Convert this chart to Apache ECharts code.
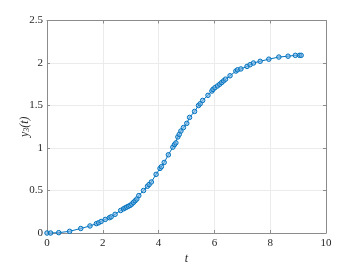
<!DOCTYPE html>
<html><head><meta charset="utf-8">
<script src="https://cdn.jsdelivr.net/npm/echarts@6/dist/echarts.min.js"></script>
<style>html,body{margin:0;padding:0;background:#fff}#c{width:360px;height:270px}</style>
</head><body><div id="c"></div>
<script>
const tValues = [0,0.13,0.42,0.81,1.21,1.54,1.77,1.85,1.94,2.09,2.24,2.30,2.44,2.64,2.74,2.80,2.86,2.92,2.98,3.04,3.10,3.16,3.22,3.29,3.46,3.60,3.66,3.74,3.91,4.05,4.10,4.20,4.35,4.51,4.57,4.62,4.69,4.74,4.80,4.89,5.01,5.11,5.29,5.43,5.49,5.58,5.77,5.91,5.95,6.02,6.11,6.19,6.26,6.33,6.40,6.56,6.77,6.83,6.95,7.17,7.28,7.40,7.64,7.95,8.31,8.64,8.90,9.05,9.11];
const yValues = [0,0,0.004,0.02,0.053,0.083,0.11,0.12,0.136,0.16,0.18,0.19,0.22,0.265,0.284,0.295,0.305,0.315,0.325,0.34,0.36,0.38,0.40,0.44,0.50,0.55,0.57,0.60,0.69,0.76,0.78,0.83,0.92,1.01,1.04,1.06,1.13,1.16,1.20,1.24,1.29,1.36,1.43,1.50,1.52,1.56,1.62,1.67,1.69,1.71,1.73,1.75,1.77,1.79,1.81,1.85,1.905,1.92,1.93,1.96,1.98,2.0,2.02,2.045,2.07,2.08,2.09,2.09,2.09];
const xTicks = [0,2,4,6,8,10];
const yTicks = [0,0.5,1,1.5,2,2.5];
const data = tValues.map((t,i)=>[t,yValues[i]]);
const serif = 'Liberation Serif';
const chart = echarts.init(document.getElementById('c'), null, {renderer:'canvas'});
const boxColor = '#8c8c8c';
const baseAxis = {
  axisLine:{show:true,onZero:false,lineStyle:{color:boxColor,width:1}},
  axisTick:{show:true,inside:true,length:3,lineStyle:{color:boxColor}},
  splitLine:{show:false},
  axisLabel:{show:false}
};
chart.setOption({
  animation:false,
  grid:{left:47,right:34,top:20.5,bottom:30,containLabel:false},
  xAxis:[
    Object.assign({}, baseAxis, {type:'value',min:0,max:10,interval:2,position:'bottom',
      splitLine:{show:true,lineStyle:{color:'#ebebeb',width:1}},
      axisLabel:{show:true,color:'#262626',fontFamily:serif,fontSize:11,margin:5},
      name:'t',nameLocation:'middle',nameGap:20,nameMoveOverlap:false,
      nameTextStyle:{fontFamily:serif,fontStyle:'italic',fontSize:12,color:'#262626'}}),
    Object.assign({}, baseAxis, {type:'value',min:0,max:10,interval:2,position:'top'})
  ],
  yAxis:[
    Object.assign({}, baseAxis, {type:'value',min:0,max:2.5,interval:0.5,position:'left',
      splitLine:{show:true,lineStyle:{color:'#ebebeb',width:1}},
      axisLabel:{show:true,color:'#262626',fontFamily:serif,fontSize:11,margin:4},
      name:'{a|y}{b|3}{a|(t)}',nameLocation:'middle',nameGap:16,nameRotate:90,nameMoveOverlap:false,
      nameTextStyle:{fontFamily:serif,fontSize:12,color:'#262626',
        rich:{a:{fontFamily:serif,fontStyle:'italic',fontSize:12,color:'#262626'},
              b:{fontFamily:serif,fontStyle:'italic',fontSize:8,color:'#262626',verticalAlign:'bottom',padding:[4,0,0,0]}}}}),
    Object.assign({}, baseAxis, {type:'value',min:0,max:2.5,interval:0.5,position:'right'})
  ],
  series:[{
    type:'line',data:data,xAxisIndex:0,yAxisIndex:0,
    symbol:'circle',symbolSize:4.5,showSymbol:true,
    lineStyle:{color:'#0072BD',width:1},
    itemStyle:{color:'rgba(120,180,230,0.6)',borderColor:'#0072BD',borderWidth:1}
  }]
});
</script></body></html>
